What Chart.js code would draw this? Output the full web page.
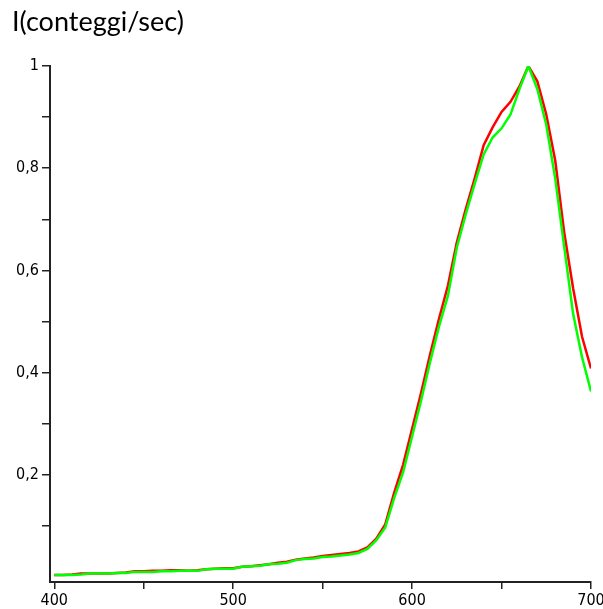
<!DOCTYPE html>
<html>
<head>
<meta charset="utf-8">
<script src="https://cdn.jsdelivr.net/npm/chart.js@4.4.0/dist/chart.umd.min.js"></script>
<style>
  body { margin: 0; background: #fff; }
  #wrap { position: relative; width: 603px; height: 609px; }
  #ylabel { position: absolute; left: 12px; top: 4px; font: 27px Lato, "Open Sans", sans-serif; color: #000; }
</style>
</head>
<body>
<div id="wrap">
  <canvas id="myChart" width="603" height="609"></canvas>
  <div id="ylabel">I(conteggi/sec)</div>
</div>
<script>
// Data
const wavelengths = [400, 405, 410, 415, 420, 425, 430, 435, 440, 445, 450, 455, 460, 465, 470, 475, 480, 485, 490, 495,
  500, 505, 510, 515, 520, 525, 530, 535, 540, 545, 550, 555, 560, 565, 570, 575, 580, 585, 590, 595,
  600, 605, 610, 615, 620, 625, 630, 635, 640, 645, 650, 655, 660, 665, 670, 675, 680, 685, 690, 695, 700];

const greenValues = [0.004, 0.004, 0.004, 0.005, 0.007, 0.007, 0.007, 0.008, 0.008, 0.010, 0.010, 0.010, 0.011, 0.011, 0.012, 0.012, 0.012, 0.015, 0.016, 0.016,
  0.016, 0.020, 0.021, 0.022, 0.025, 0.026, 0.028, 0.033, 0.035, 0.036, 0.039, 0.040, 0.042, 0.044, 0.047, 0.055, 0.072, 0.097, 0.155, 0.205,
  0.275, 0.345, 0.42, 0.49, 0.55, 0.645, 0.71, 0.77, 0.827, 0.86, 0.878, 0.905, 0.955, 1.0, 0.955, 0.885, 0.78, 0.647, 0.515, 0.43, 0.363];

const redValues = [0.004, 0.004, 0.005, 0.007, 0.007, 0.007, 0.007, 0.008, 0.009, 0.011, 0.011, 0.012, 0.012, 0.013, 0.013, 0.012, 0.013, 0.015, 0.016, 0.017,
  0.017, 0.020, 0.021, 0.023, 0.025, 0.028, 0.030, 0.034, 0.036, 0.038, 0.041, 0.043, 0.045, 0.047, 0.050, 0.058, 0.075, 0.103, 0.165, 0.22,
  0.29, 0.36, 0.435, 0.505, 0.57, 0.655, 0.72, 0.78, 0.845, 0.88, 0.91, 0.93, 0.96, 1.0, 0.97, 0.905, 0.815, 0.675, 0.565, 0.47, 0.408];

const xTicks = [400, 450, 500, 550, 600, 650, 700];
const yTicks = [0.1, 0.2, 0.3, 0.4, 0.5, 0.6, 0.7, 0.8, 0.9, 1.0];

const toPoints = vals => wavelengths.map((w, i) => ({ x: w, y: vals[i] }));
const tickFont = { family: "'DejaVu Sans Condensed', 'DejaVu Sans', sans-serif", size: 16 };

// Configuration
const config = {
  type: "line",
  data: {
    datasets: [
      { label: "verde", data: toPoints(greenValues), borderColor: "#00ff00", borderWidth: 2.5, pointRadius: 0, tension: 0 },
      { label: "rosso", data: toPoints(redValues), borderColor: "#ff0000", borderWidth: 2.5, pointRadius: 0, tension: 0 }
    ]
  },
  options: {
    responsive: false,
    animation: false,
    layout: { padding: { top: 66, right: 12, left: 0, bottom: 0 } },
    plugins: { legend: { display: false }, tooltip: { enabled: false } },
    scales: {
      x: {
        type: "linear",
        min: 397.6,
        max: 700,
        afterBuildTicks: s => { s.ticks = xTicks.map(v => ({ value: v })); },
        afterFit: s => { s.height = 27; s.paddingLeft = 0; s.paddingRight = 0; },
        ticks: {
          autoSkip: false, maxRotation: 0, color: "#000", font: tickFont, padding: 2,
          callback: v => (v % 100 === 0 ? String(v) : "")
        },
        grid: { drawOnChartArea: false, drawTicks: true, tickLength: 7, color: "#222", lineWidth: 1.5 },
        border: { color: "#222", width: 2 }
      },
      y: {
        min: -0.0098,
        max: 1,
        afterBuildTicks: s => { s.ticks = yTicks.map(v => ({ value: v })); },
        afterFit: s => { s.width = 50; },
        ticks: {
          autoSkip: false, color: "#000", font: tickFont, padding: 3,
          callback: v => {
            const k = Math.round(v * 10);
            if (k % 2 !== 0) return "";
            return k === 10 ? "1" : "0," + k;
          }
        },
        grid: { drawOnChartArea: false, drawTicks: true, tickLength: 8, color: "#222", lineWidth: 1.5 },
        border: { color: "#222", width: 2 }
      }
    }
  }
};

// Create chart
const ctx = document.getElementById("myChart").getContext("2d");
const myChart = new Chart(ctx, config);
</script>
</body>
</html>
